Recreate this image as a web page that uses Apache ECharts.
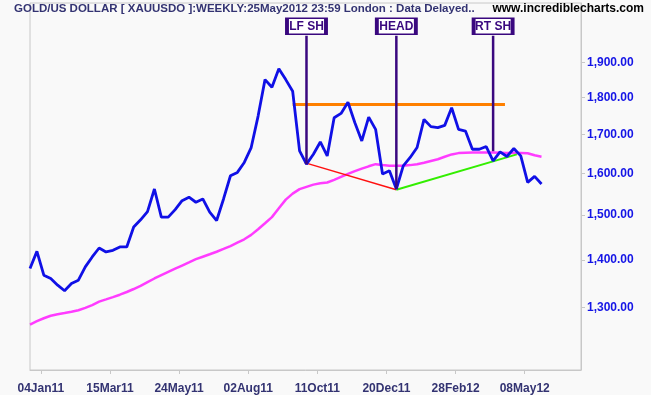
<!DOCTYPE html>
<html><head><meta charset="utf-8">
<script src="https://cdn.jsdelivr.net/npm/echarts@6/dist/echarts.min.js"></script>
<style>html,body{margin:0;padding:0;background:#f9f9f9;}#c{width:651px;height:395px;}</style>
</head><body><div id="c"></div>
<script>
// ---- data ----
const firstWeek = '2010-12-24';   // weekly closes, one per week
const price = [1381.0, 1418.3, 1366.9, 1359.9, 1346.0, 1334.4, 1349.5, 1356.4, 1384.6, 1406.1,
  1425.7, 1417.0, 1420.5, 1428.0, 1428.0, 1472.6, 1489.2, 1508.4, 1562.0, 1495.4,
  1495.4, 1513.0, 1534.1, 1542.2, 1530.3, 1538.1, 1507.0, 1487.6, 1538.1, 1594.3,
  1602.6, 1627.5, 1665.5, 1748.5, 1850.1, 1828.3, 1881.7, 1850.1, 1817.1, 1656.8,
  1623.2, 1648.4, 1679.9, 1644.1, 1744.2, 1755.8, 1786.6, 1730.8, 1682.5, 1745.8,
  1713.1, 1598.5, 1606.6, 1562.0, 1619.0, 1640.1, 1665.5, 1739.6, 1720.2, 1717.5,
  1723.6, 1771.2, 1713.1, 1708.6, 1661.1, 1661.1, 1668.1, 1631.5, 1654.3, 1642.6,
  1663.0, 1644.1, 1578.2, 1592.8, 1574.0];
const movingAvg = [1266.5, 1273.1, 1278.8, 1283.7, 1286.9, 1289.1, 1291.7, 1294.8, 1299.4, 1305.0,
  1312.1, 1316.7, 1321.4, 1326.3, 1331.8, 1338.0, 1344.6, 1352.3, 1360.0, 1367.1,
  1373.9, 1380.7, 1387.5, 1394.3, 1401.2, 1406.6, 1412.0, 1417.5, 1423.6, 1430.0,
  1437.5, 1445.0, 1454.9, 1467.7, 1481.3, 1495.5, 1516.1, 1536.5, 1550.8, 1561.6,
  1567.1, 1572.6, 1575.8, 1577.7, 1584.3, 1591.6, 1598.8, 1605.7, 1611.9, 1617.8,
  1623.2, 1621.0, 1619.0, 1619.0, 1619.5, 1620.8, 1623.0, 1626.7, 1631.3, 1635.5,
  1641.9, 1647.9, 1651.2, 1652.0, 1652.5, 1652.7, 1652.7, 1652.7, 1652.2, 1651.5,
  1651.9, 1651.7, 1650.8, 1645.6, 1642.1];
const tickDates = ['2011-01-04','2011-03-15','2011-05-24','2011-08-02','2011-10-11','2011-12-20','2012-02-28','2012-05-08'];
const tickLabels = ['04Jan11','15Mar11','24May11','02Aug11','11Oct11','20Dec11','28Feb12','08May12'];
const yTicks = [1300, 1400, 1500, 1600, 1700, 1800, 1900];
const resistanceLine = [['2011-09-16', 1780], ['2012-04-18', 1780]];
const leftTrend = [['2011-09-28', 1627], ['2011-12-30', 1560]];
const rightTrend = [['2011-12-30', 1560], ['2012-04-30', 1648]];
const shoulderNames = ['LF SH', 'HEAD', 'RT SH'];
const shoulderDates = ['2011-09-30', '2011-12-30', '2012-04-06'];
const shoulderLows = [1623, 1562, 1656];
const shoulderTop = 1980;
const xRange = ['2010-12-24', '2012-07-04'];
const yRange = [1180.4, 2083];
const titleText = 'GOLD/US DOLLAR [ XAUUSDO ]:WEEKLY:25May2012 23:59 London : Data Delayed..';
const siteText = 'www.incrediblecharts.com';

// ---- helpers ----
function t(s) { return new Date(+s.slice(0, 4), +s.slice(5, 7) - 1, +s.slice(8, 10)).getTime(); }
const start = t(firstWeek);
const sd = new Date(start);
const weekTimes = price.map((_, i) => new Date(sd.getFullYear(), sd.getMonth(), sd.getDate() + 7 * i).getTime());
const tickTimes = tickDates.map(t);
const FONT = '"Liberation Sans", Arial, sans-serif';
const PURPLE = '#3a087f';

function xLabel(v) {
  for (let i = 0; i < tickTimes.length; i++) if (Math.abs(tickTimes[i] - v) < 43200000) return tickLabels[i];
  return '';
}
function yLabel(v) {
  const r = Math.round(v);
  return r.toString().replace(/\B(?=(\d{3})+(?!\d))/g, ',') + '.00';
}
const pts = arr => arr.map(p => [t(p[0]), p[1]]);

const series = [
  { name: 'MA', type: 'line', data: weekTimes.map((x, i) => [x, movingAvg[i]]), symbol: 'none',
    lineStyle: { color: '#ff3cff', width: 2.5 }, z: 2 },
  { name: 'res', type: 'line', data: pts(resistanceLine), symbol: 'none',
    lineStyle: { color: '#ff8000', width: 3 }, z: 3 },
  { name: 'lt', type: 'line', data: pts(leftTrend), symbol: 'none',
    lineStyle: { color: '#ff1010', width: 1.5 }, z: 3 },
  { name: 'rt', type: 'line', data: pts(rightTrend), symbol: 'none',
    lineStyle: { color: '#33ee00', width: 2 }, z: 3 },
  { name: 'Gold', type: 'line', data: weekTimes.map((x, i) => [x, price[i]]), symbol: 'none',
    lineStyle: { color: '#1010e6', width: 2.8 }, z: 4 }
];
shoulderNames.forEach((nm, i) => {
  series.push({
    name: nm, type: 'line', symbol: 'none', z: 6,
    lineStyle: { color: PURPLE, width: 2.5 },
    data: [[t(shoulderDates[i]), shoulderLows[i]], [t(shoulderDates[i]), shoulderTop]],
    markPoint: {
      silent: true, z: 7,
      symbol: 'rect', symbolSize: [39, 16], symbolOffset: [0, -9.5],
      itemStyle: { color: '#ffffff', borderColor: PURPLE, borderWidth: 2.5 },
      label: { show: true, position: 'inside', formatter: nm, color: PURPLE, fontFamily: FONT,
        fontWeight: 'bold', fontSize: 12 },
      data: [{ coord: [t(shoulderDates[i]), shoulderTop] }]
    }
  });
});

const chart = echarts.init(document.getElementById('c'), null, { renderer: 'canvas' });
chart.setOption({
  animation: false,
  backgroundColor: '#f9f9f9',
  title: [
    { text: titleText, left: 14, top: 3, padding: 0,
      textStyle: { fontFamily: FONT, fontSize: 11.5, fontWeight: 'bold', color: '#333372' } },
    { text: siteText, right: 7, top: 3, padding: 0,
      textStyle: { fontFamily: FONT, fontSize: 12, fontWeight: 'bold', color: '#000000' } }
  ],
  grid: { left: 30, right: 70, top: 3, bottom: 23, show: true, borderColor: '#c8c8c8', borderWidth: 1,
    backgroundColor: 'transparent', containLabel: false },
  xAxis: {
    type: 'value', min: t(xRange[0]), max: t(xRange[1]),
    axisLine: { lineStyle: { color: '#c8c8c8' } },
    axisTick: { show: true, length: 4, customValues: tickTimes, lineStyle: { color: '#c8c8c8' } },
    axisLabel: { customValues: tickTimes, formatter: xLabel, margin: 13,
      fontFamily: FONT, fontSize: 12, fontWeight: 'bold', color: '#333372', hideOverlap: false },
    splitLine: { show: false }, minorTick: { show: false }
  },
  yAxis: {
    type: 'log', logBase: 10, position: 'right', min: yRange[0], max: yRange[1],
    axisLine: { show: true, lineStyle: { color: '#c8c8c8' } },
    axisTick: { show: true, length: 4, customValues: yTicks, lineStyle: { color: '#c8c8c8' } },
    axisLabel: { customValues: yTicks, formatter: yLabel, margin: 6,
      fontFamily: FONT, fontSize: 12, fontWeight: 'bold', color: '#1414e6' },
    splitLine: { show: false }
  },
  series: series
});
</script></body></html>
